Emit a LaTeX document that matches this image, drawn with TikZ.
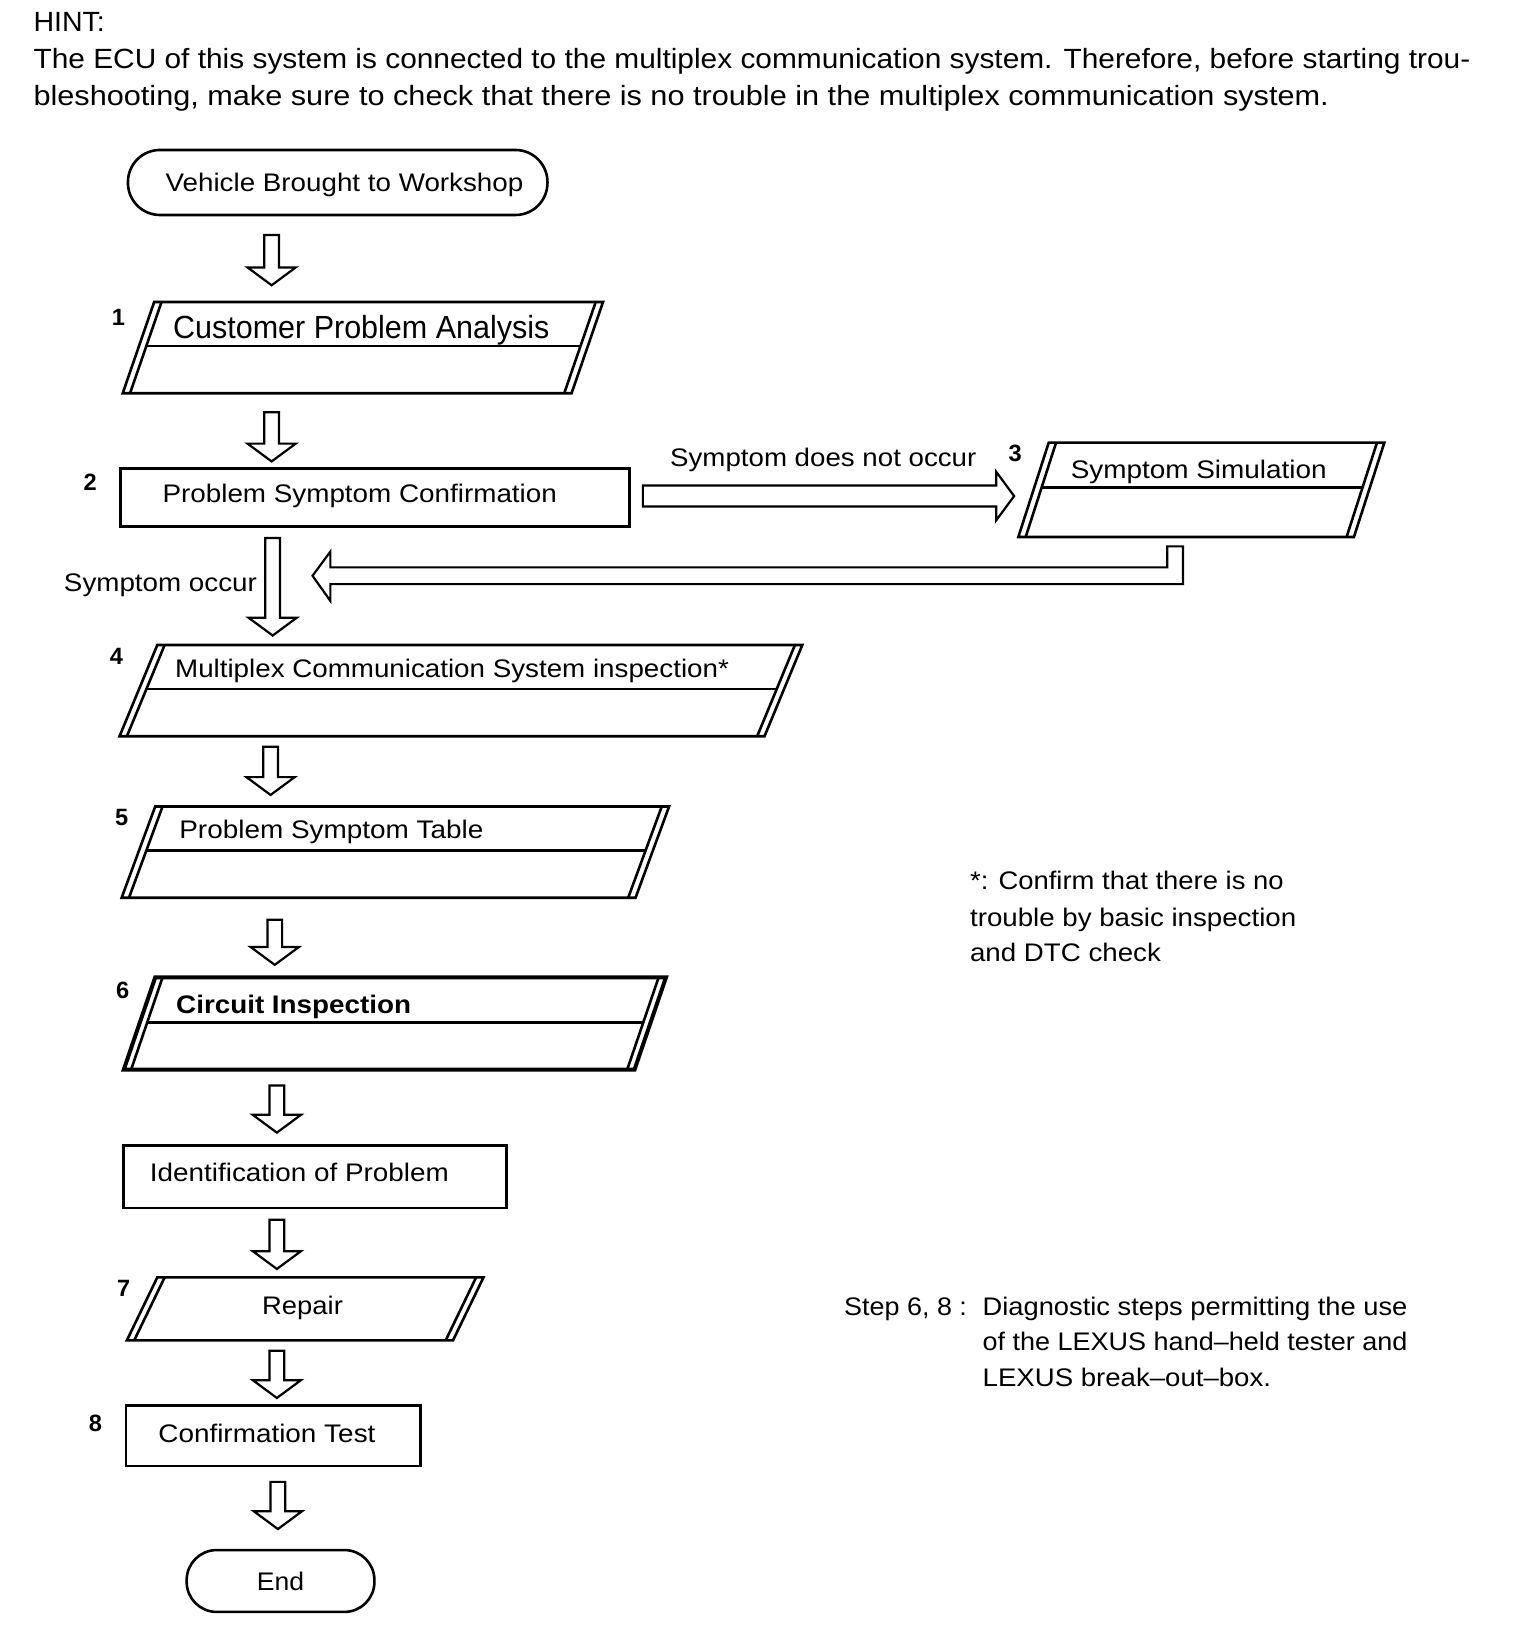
\documentclass[tikz,border=0pt]{standalone}
\usepackage{fontspec}
\setmainfont{Liberation Sans}
\usetikzlibrary{calc}
\newdimen\pxu \pxu=0.52436pt
\newsavebox\fitbx
\newcommand\fitw[2]{\sbox\fitbx{#2}\resizebox{#1\pxu}{\ht\fitbx}{\usebox\fitbx}}
\newcommand\bdown[2]{%
  \draw[blk] ($(#1)+(-7,0)$) -- ($(#1)+(7,0)$) -- ($(#2)+(7,-17)$) -- ($(#2)+(23,-17)$) -- (#2)
     -- ($(#2)+(-23,-17)$) -- ($(#2)+(-7,-17)$) -- cycle;}
\newcommand\dpara[8]{% #1 left x top, #2 right x top, #3 top y, #4 bottom y, #5 slant, #6 divider y, #7 outer style, #8 inner style
  \draw[#7] (#1,#3) -- (#2,#3) -- ({#2-#5},#4) -- ({#1-#5},#4) -- cycle;
  \draw[#8] ({#1+7},#3) -- ({#1+7-#5},#4);
  \draw[#8] ({#2-7},#3) -- ({#2-7-#5},#4);
  \ifx\relax#6\relax\else
  \draw[#8] ({#1+7-#5*(#6-#3)/(#4-#3)},#6) -- ({#2-7-#5*(#6-#3)/(#4-#3)},#6);
  \fi}
\tikzset{
  txt/.style={inner sep=0pt, outer sep=0pt, anchor=base west, font=\fontsize{12.7pt}{15pt}\selectfont},
  big/.style={txt, font=\fontsize{16pt}{19pt}\selectfont},
  hint/.style={txt, font=\fontsize{13.9pt}{16pt}\selectfont},
  num/.style={inner sep=0pt, anchor=base, font=\fontsize{11.8pt}{14pt}\selectfont\bfseries},
  boxline/.style={line width=1.3pt, line join=miter},
  thickline/.style={line width=2pt, line join=miter},
  blk/.style={line width=1.1pt, fill=white, line join=miter},
}
\begin{document}
\begin{tikzpicture}[x=0.52436pt, y=-0.52436pt]
\useasboundingbox (0,0) rectangle (1449.4,1567.6);

% hint text
\node[hint] (hintt) at (32,30) {\fitw{68}{HINT:}};
\node[hint] (hint1) at (32,65) {\fitw{1370}{The ECU of this system is connected to the multiplex communication system. Therefore, before starting trou-}};
\node[hint] (hint2) at (32,101) {\fitw{1235}{bleshooting, make sure to check that there is no trouble in the multiplex communication system.}};

% start
\draw[boxline, rounded corners=16pt] (122,143) rectangle (522,205);
\node[txt] (start) at (158,183) {\fitw{341}{Vehicle Brought to Workshop}};

% box 1
\dpara{147}{575}{288}{375}{30}{330}{boxline}{boxline}
\node[big] (b1) at (165,323) {\fitw{359}{Customer Problem Analysis}};
\node[num] (n1) at (113,310) {1};

% box 2
\draw[boxline] (115,447) rectangle (600,502);
\node[txt] (b2) at (155,479) {\fitw{376}{Problem Symptom Confirmation}};
\node[num] (n2) at (86,468) {2};

% box 3
\dpara{1000}{1320}{422}{512}{29}{465}{boxline}{boxline}
\node[txt] (b3) at (1021,456) {\fitw{244}{Symptom Simulation}};
\node[num] (n3) at (968,440) {3};
\node[txt] (lbl23) at (639,445) {\fitw{292}{Symptom does not occur}};

% box 4
\dpara{150}{765}{615}{702}{36}{657}{boxline}{boxline}
\node[txt] (b4) at (167,646) {\fitw{528}{Multiplex Communication System inspection*}};
\node[num] (n4) at (111,634) {4};
\node[txt] (lbl24) at (61,564) {\fitw{184}{Symptom occur}};

% box 5
\dpara{148}{638}{769}{856}{32}{811}{boxline}{boxline}
\node[txt] (b5) at (171,800) {\fitw{290}{Problem Symptom Table}};
\node[num] (n5) at (116,787) {5};

% box 6
\dpara{148}{635}{932}{1020}{30}{975}{thickline}{boxline}
\node[txt, font=\fontsize{12.7pt}{15pt}\selectfont\bfseries] (b6) at (168,966) {\fitw{224}{Circuit Inspection}};
\node[num] (n6) at (117,952) {6};

% identification
\draw[boxline] (118,1092) rectangle (483,1152);
\node[txt] (bid) at (143,1127) {\fitw{285}{Identification of Problem}};

% box 7
\dpara{150}{461}{1218}{1278}{29}{}{boxline}{boxline}
\node[txt] (b7) at (250,1253) {\fitw{77}{Repair}};
\node[num] (n7) at (118,1236) {7};

% box 8
\draw[boxline] (120,1340) rectangle (401,1398);
\node[txt] (b8) at (151,1375) {\fitw{207}{Confirmation Test}};
\node[num] (n8) at (91,1365) {8};

% end
\draw[boxline, rounded corners=15pt] (178,1478) rectangle (357,1537);
\node[txt] (endt) at (245,1517) {\fitw{45}{End}};

% notes
\node[txt] (note1) at (925,848) {\fitw{299}{*: Confirm that there is no}};
\node[txt] (note2) at (925,883) {\fitw{311}{trouble by basic inspection}};
\node[txt] (note3) at (925,917) {\fitw{182}{and DTC check}};
\node[txt] (step) at (805,1254) {\fitw{117}{Step 6, 8 :}};
\node[txt] (d1) at (937,1254) {\fitw{405}{Diagnostic steps permitting the use}};
\node[txt] (d2) at (937,1288) {\fitw{405}{of the LEXUS hand–held tester and}};
\node[txt] (d3) at (937,1322) {\fitw{275}{LEXUS break–out–box.}};

% arrow end points
\coordinate (a1t) at (259,224); \coordinate (a1b) at (259,272);
\coordinate (a2t) at (259,393); \coordinate (a2b) at (259,440);
\coordinate (a3t) at (260,513); \coordinate (a3b) at (260,606);
\coordinate (a4t) at (258,712); \coordinate (a4b) at (258,758);
\coordinate (a5t) at (262,877); \coordinate (a5b) at (262,920);
\coordinate (a6t) at (264,1035); \coordinate (a6b) at (264,1080);
\coordinate (a7t) at (264,1163); \coordinate (a7b) at (264,1210);
\coordinate (a8t) at (264,1288); \coordinate (a8b) at (264,1333);
\coordinate (a9t) at (265,1413); \coordinate (a9b) at (265,1458);
\bdown{a1t}{a1b}
\bdown{a2t}{a2b}
\bdown{a3t}{a3b}
\bdown{a4t}{a4b}
\bdown{a5t}{a5b}
\bdown{a6t}{a6b}
\bdown{a7t}{a7b}
\bdown{a8t}{a8b}
\bdown{a9t}{a9b}

% right arrow to box 3
\coordinate (r1) at (613,473); \coordinate (r2) at (967,473);
\draw[blk] ($(r1)+(0,-10)$) -- ($(r2)+(-17,-10)$) -- ($(r2)+(-17,-23)$) -- (r2) -- ($(r2)+(-17,23)$)
  -- ($(r2)+(-17,10)$) -- ($(r1)+(0,10)$) -- cycle;

% return arrow from box 3
\coordinate (ret1) at (1120,521); \coordinate (ret2) at (298,549);
\draw[blk] ($(ret1)+(-7,0)$) -- ($(ret1)+(8,0)$) -- (1128,557) -- (315,557) -- (315,573) -- (ret2)
  -- (315,526) -- (315,541) -- (1113,541) -- cycle;
\end{tikzpicture}
\end{document}
